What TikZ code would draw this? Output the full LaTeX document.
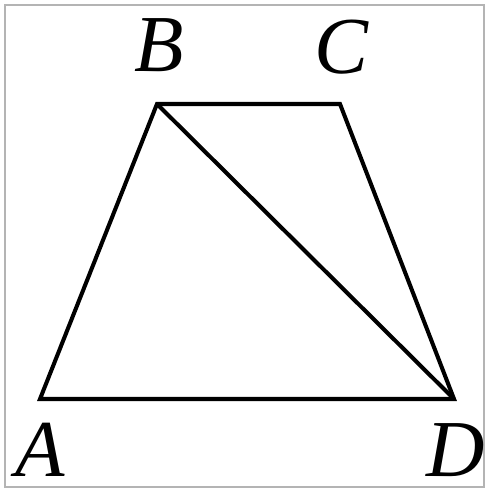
\documentclass[tikz,border=0pt]{standalone}
\usepackage{fontspec}
\setmainfont{Liberation Serif}
\usetikzlibrary{positioning,calc}
\definecolor{frameline}{HTML}{B4B4B4}
\tikzset{
  edge/.style={line width=2.3pt, line join=miter, draw=black},
  vlabel/.style={font=\fontsize{46}{50}\selectfont\itshape, inner sep=0pt},
  frame/.style={draw=frameline, line width=1.2pt},
}
\begin{document}
\begin{tikzpicture}

% ---- page and frame ----------------------------------------------------------
\useasboundingbox (0,0) rectangle (9.82,9.96);
\draw[frame] (0.10,0.22) rectangle (9.68,9.86);

% ---- vertices ----------------------------------------------------------------
\coordinate (A) at (0.80,1.98);
\coordinate (D) at (9.08,1.98);
\coordinate (B) at (3.14,7.88);
\coordinate (C) at (6.80,7.88);

% ---- labels ------------------------------------------------------------------
\node[vlabel] (la) at (0.80,0.96) {A};
\node[vlabel] (ld) at (9.12,0.96) {D};
\node[vlabel] (lb) at (3.18,9.06) {B};
\node[vlabel] (lc) at (6.82,9.02) {C};

% ---- trapezoid and diagonal ----------------------------------------------------
\draw[edge] (A) -- (B) -- (C) -- (D) -- cycle;
\draw[edge] (B) -- (D);
\end{tikzpicture}
\end{document}
